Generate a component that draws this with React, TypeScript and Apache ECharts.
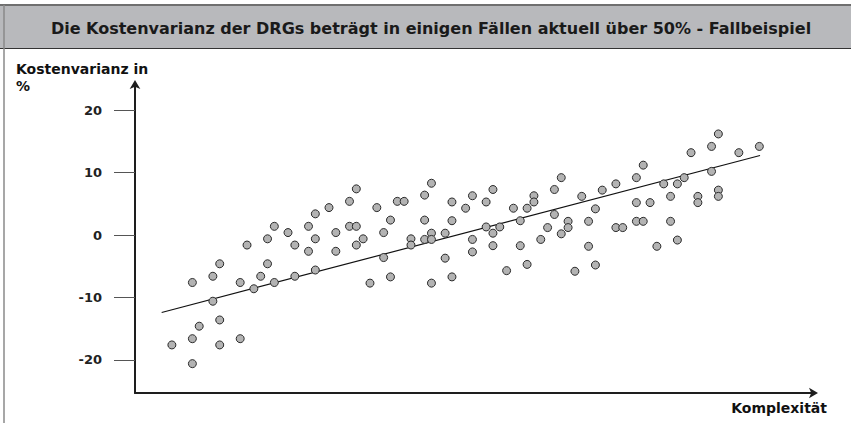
import React, { useEffect, useRef } from "react";
import * as echarts from "echarts";

const titleText = "Die Kostenvarianz der DRGs beträgt in einigen Fällen aktuell über 50% - Fallbeispiel";
const yAxisName = "Kostenvarianz in\n%";
const xAxisName = "Komplexität";
const yTicks = [-20, -10, 0, 10, 20];

// [Komplexität (index), Kostenvarianz in %]
const pointsLeft: number[][] = [
  [5, -17.6], [8, -7.6], [8, -16.6], [8, -20.6], [9, -14.6], [11, -6.6], [11, -10.6],
  [12, -4.6], [12, -13.6], [12, -17.6], [15, -7.6], [15, -16.6], [16, -1.6], [17, -8.6],
  [18, -6.6], [19, -0.6], [19, -4.6], [20, 1.4], [20, -7.6], [22, 0.4], [23, -1.6], [23, -6.6],
];
const pointsMiddle: number[][] = [
  [25, 1.4], [25, -2.6], [26, 3.4], [26, -0.6], [26, -5.6], [28, 4.4], [29, 0.4], [29, -2.6],
  [31, 5.4], [31, 1.4], [32, 7.4], [32, 1.4], [32, -1.6], [33, -0.6], [34, -7.7], [35, 4.4],
  [36, 0.4], [36, -3.6], [37, 2.4], [37, -6.7], [38, 5.4], [39, 5.4], [40, -0.6], [40, -1.6],
  [42, 6.4], [42, 2.4], [42, -0.7], [43, 8.3], [43, 0.3], [43, -0.7], [43, -7.7], [45, 0.3],
  [45, -3.7], [46, 5.3], [46, 2.3], [46, -6.7], [48, 4.3], [49, 6.3], [49, -0.7], [49, -2.7],
  [51, 5.3], [51, 1.3], [52, 7.3], [52, 0.3], [52, -1.7], [53, 1.3], [54, -5.7], [55, 4.3],
  [56, 2.3], [56, -1.7], [57, 4.3], [57, -4.7], [58, 6.3], [58, 5.3], [59, -0.7], [60, 1.2],
  [61, 7.3], [61, 3.3], [62, 9.2], [62, 0.2],
];
const pointsRight: number[][] = [
  [63, 2.2], [63, 1.2], [64, -5.8], [65, 6.2], [66, 2.2], [66, -1.8], [67, 4.2], [67, -4.8],
  [68, 7.2], [70, 8.2], [70, 1.2], [71, 1.2], [73, 9.2], [73, 5.2], [73, 2.2], [74, 11.2],
  [74, 2.2], [75, 5.2], [76, -1.8], [77, 8.2], [78, 6.2], [78, 2.2], [79, 8.2], [79, -0.8],
  [80, 9.2], [81, 13.2], [82, 6.2], [82, 5.2], [84, 14.2], [84, 10.2], [85, 16.2], [85, 7.2],
  [85, 6.2], [88, 13.2], [91, 14.2],
];
const trendLine: number[][] = [[3.5, -12.4], [91.1, 12.75]];

const FONT = "'DejaVu Sans', sans-serif";

export default function App() {
  const ref = useRef<HTMLDivElement>(null);
  useEffect(() => {
    document.body.style.margin = "0";
    const chart = echarts.init(ref.current!, null, { renderer: "svg" });
    chart.setOption({
      animation: false,
      backgroundColor: "#ffffff",
      grid: { left: 135, right: 37, top: 84, bottom: 30 },
      xAxis: {
        type: "value",
        min: -0.4,
        max: 99.0,
        splitLine: { show: false },
        axisTick: { show: false },
        axisLabel: { show: false },
        axisLine: {
          onZero: false,
          symbol: ["none", "arrow"],
          symbolSize: [8, 9],
          symbolOffset: [0, 4],
          lineStyle: { color: "#1e1e1e", width: 2 },
        },
      },
      yAxis: {
        type: "value",
        min: -25.3,
        max: 24.2,
        splitLine: { show: false },
        axisLine: {
          onZero: false,
          symbol: ["none", "arrow"],
          symbolSize: [8, 9],
          symbolOffset: [0, 4],
          lineStyle: { color: "#1e1e1e", width: 2 },
        },
        axisTick: {
          show: true,
          length: 21,
          customValues: yTicks,
          lineStyle: { color: "#555", width: 1 },
        },
        axisLabel: {
          show: true,
          customValues: yTicks,
          margin: 33,
          fontFamily: FONT,
          fontWeight: "bold",
          fontSize: 13,
          color: "#222",
        },
      },
      series: [
        {
          type: "scatter",
          data: [...pointsLeft, ...pointsMiddle, ...pointsRight],
          symbol: "circle",
          symbolSize: 8,
          itemStyle: { color: "#b3b3b3", borderColor: "#2a2a2a", borderWidth: 1, opacity: 1 },
          z: 3,
        },
        {
          type: "line",
          data: trendLine,
          showSymbol: false,
          symbol: "none",
          lineStyle: { color: "#111", width: 1.2 },
          z: 2,
        },
      ],
      graphic: [
        { type: "rect", shape: { x: 0, y: 5, width: 851, height: 44 }, style: { fill: "#b8b9bc" }, silent: true },
        { type: "line", shape: { x1: 0, y1: 5, x2: 851, y2: 5 }, style: { stroke: "#6f6f6f", lineWidth: 2 } },
        { type: "line", shape: { x1: 0, y1: 48.5, x2: 851, y2: 48.5 }, style: { stroke: "#333", lineWidth: 1.2 } },
        { type: "line", shape: { x1: 4, y1: 5, x2: 4, y2: 423 }, style: { stroke: "#8a8a8a", lineWidth: 1.5 } },
        {
          type: "text", x: 431, y: 28,
          style: { text: titleText, fill: "#1a1a1a", font: `bold 16px ${FONT}`, align: "center", verticalAlign: "middle" },
        },
        {
          type: "text", x: 16, y: 61,
          style: { text: yAxisName, fill: "#111", font: `bold 14px ${FONT}`, lineHeight: 16.5, align: "left", verticalAlign: "top" },
        },
        {
          type: "text", x: 827, y: 401,
          style: { text: xAxisName, fill: "#111", font: `bold 14px ${FONT}`, align: "right", verticalAlign: "top" },
        },
      ],
    });
    return () => chart.dispose();
  }, []);
  return <div ref={ref} style={{ position: "absolute", left: 0, top: 0, width: 851, height: 423 }} />;
}
